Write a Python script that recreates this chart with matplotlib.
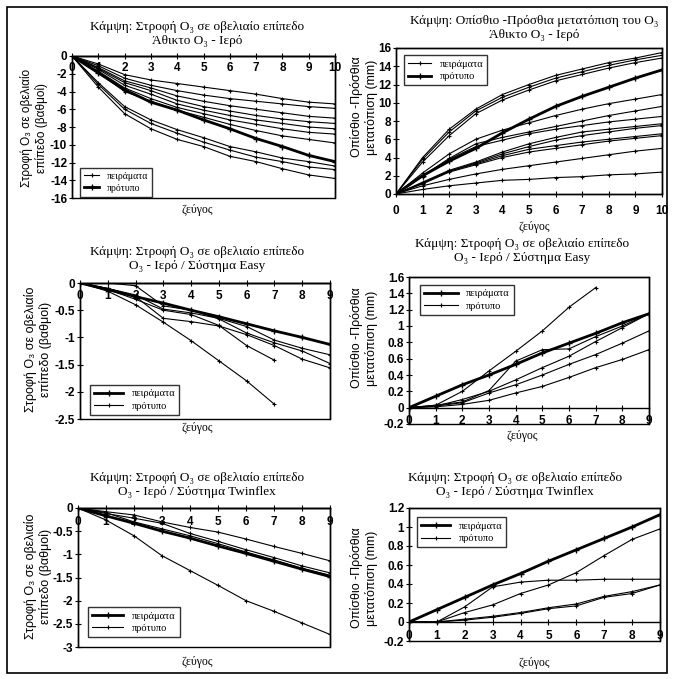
import matplotlib
matplotlib.use("Agg")
import matplotlib.pyplot as plt
from matplotlib.patches import Rectangle
from matplotlib.ticker import FuncFormatter

# ---- data ----
x10 = list(range(11))
x9 = list(range(10))

# 1. Άθικτο - στροφή (μοίρες)
strofi_athikto_peir = [
    [0, -0.9, -2.1, -2.7, -3.1, -3.5, -3.9, -4.3, -4.8, -5.2, -5.4],
    [0, -1.1, -2.5, -3.3, -3.9, -4.4, -4.8, -5.1, -5.4, -5.7, -5.9],
    [0, -1.3, -2.8, -3.6, -4.5, -5.1, -5.6, -6.0, -6.4, -6.8, -7.0],
    [0, -1.4, -3.0, -3.9, -5.0, -5.7, -6.2, -6.7, -7.1, -7.4, -7.6],
    [0, -1.5, -3.3, -4.3, -5.4, -6.1, -6.7, -7.2, -7.6, -8.0, -8.2],
    [0, -1.7, -3.6, -4.8, -5.8, -6.5, -7.2, -7.7, -8.2, -8.6, -8.8],
    [0, -1.9, -4.0, -5.1, -6.1, -6.9, -7.7, -8.4, -9.0, -9.4, -9.8],
    [0, -3.0, -5.7, -7.2, -8.3, -9.2, -10.2, -10.8, -11.5, -11.9, -12.4],
    [0, -3.2, -6.0, -7.6, -8.7, -9.7, -10.6, -11.4, -11.9, -12.5, -12.8],
    [0, -3.5, -6.5, -8.2, -9.4, -10.2, -11.3, -11.9, -12.7, -13.4, -13.8],
]
strofi_athikto_prot = [0, -1.9, -3.8, -5.2, -6.1, -7.2, -8.2, -9.3, -10.2, -11.2, -11.9]

# 2. Άθικτο - μετατόπιση (mm)
metat_athikto_peir = [
    [0, 3.5, 6.4, 8.8, 10.3, 11.4, 12.4, 13.1, 13.8, 14.4, 14.9],
    [0, 3.8, 6.8, 9.1, 10.6, 11.7, 12.7, 13.4, 14.1, 14.7, 15.2],
    [0, 4.0, 7.1, 9.3, 10.9, 12.0, 13.0, 13.7, 14.4, 14.9, 15.5],
    [0, 2.3, 4.4, 6.0, 7.0, 7.8, 8.6, 9.3, 9.9, 10.4, 10.9],
    [0, 2.0, 3.9, 5.5, 6.2, 6.8, 7.4, 8.0, 8.6, 9.1, 9.6],
    [0, 1.9, 3.8, 5.2, 5.9, 6.6, 7.1, 7.5, 7.9, 8.2, 8.5],
    [0, 1.3, 2.6, 3.5, 4.6, 5.5, 6.2, 6.8, 7.1, 7.4, 7.7],
    [0, 1.2, 2.5, 3.4, 4.4, 5.2, 5.9, 6.4, 6.8, 7.2, 7.5],
    [0, 1.2, 2.5, 3.3, 4.2, 4.9, 5.3, 5.7, 6.0, 6.3, 6.6],
    [0, 1.1, 2.4, 3.2, 4.0, 4.6, 5.0, 5.4, 5.8, 6.1, 6.4],
    [0, 0.9, 1.6, 2.2, 2.7, 3.1, 3.5, 3.9, 4.3, 4.7, 5.0],
    [0, 0.5, 0.9, 1.2, 1.5, 1.6, 1.8, 1.9, 2.1, 2.2, 2.4],
]
metat_athikto_prot = [0, 2.0, 3.6, 5.0, 6.7, 8.2, 9.6, 10.7, 11.7, 12.7, 13.6]

# 3. Easy - στροφή
strofi_easy_peir = [0, -0.12, -0.25, -0.37, -0.5, -0.62, -0.75, -0.88, -1.0, -1.13]
strofi_easy_prot = [
    [0, -0.15, -0.4, -0.72, -1.06, -1.43, -1.8, -2.23],
    [0, -0.12, -0.3, -0.5, -0.58, -0.78, -1.15, -1.42],
    [0, 0, -0.05, -0.42, -0.5, -0.66, -0.92, -1.1, -1.25, -1.48],
    [0, -0.1, -0.22, -0.48, -0.55, -0.65, -0.8, -1.05, -1.2, -1.32],
    [0, -0.1, -0.25, -0.65, -0.71, -0.79, -0.95, -1.15, -1.4, -1.56],
]

# 4. Easy - μετατόπιση
metat_easy_peir = [0, 0.14, 0.28, 0.4, 0.53, 0.67, 0.79, 0.91, 1.04, 1.15]
metat_easy_prot = [
    [0, 0.03, 0.2, 0.45, 0.69, 0.94, 1.23, 1.47],
    [0, 0.03, 0.07, 0.21, 0.57, 0.71, 0.72, 0.87, 1.0, 1.15],
    [0, 0.02, 0.1, 0.2, 0.34, 0.49, 0.63, 0.81, 0.98, 1.15],
    [0, 0.02, 0.06, 0.18, 0.28, 0.40, 0.53, 0.65, 0.79, 0.94],
    [0, 0.01, 0.04, 0.09, 0.18, 0.26, 0.37, 0.49, 0.59, 0.71],
]

# 5. Twinflex - στροφή
strofi_twin_peir = [0, -0.17, -0.33, -0.5, -0.65, -0.82, -0.98, -1.15, -1.32, -1.48]
strofi_twin_prot = [
    [0, -0.26, -0.6, -1.03, -1.35, -1.67, -2.0, -2.23, -2.48, -2.73],
    [0, -0.08, -0.15, -0.3, -0.42, -0.52, -0.67, -0.83, -0.98, -1.14],
    [0, -0.12, -0.22, -0.33, -0.55, -0.72, -0.9, -1.07, -1.25, -1.4],
    [0, -0.1, -0.3, -0.45, -0.6, -0.77, -0.95, -1.12, -1.3, -1.45],
]

# 6. Twinflex - μετατόπιση
metat_twin_peir = [0, 0.13, 0.26, 0.39, 0.51, 0.64, 0.76, 0.88, 1.0, 1.13]
metat_twin_prot = [
    [0, 0, 0.16, 0.37, 0.42, 0.44, 0.44, 0.45, 0.45, 0.45],
    [0, 0, 0.1, 0.18, 0.3, 0.39, 0.52, 0.7, 0.87, 0.98],
    [0, 0, 0.02, 0.05, 0.09, 0.14, 0.17, 0.26, 0.3, 0.39],
    [0, 0, 0.03, 0.06, 0.1, 0.15, 0.19, 0.27, 0.32, 0.39],
]

tit_strofi = "Κάμψη: Στροφή O₃ σε οβελιαίο επίπεδο"
tit_metat = "Κάμψη: Οπίσθιο -Πρόσθια μετατόπιση του O₃"
ylab_strofi = "Στροφή O₃ σε οβελιαίο\nεπίπεδο (βαθμοί)"
ylab_metat = "Οπίσθιο -Πρόσθια\nμετατόπιση (mm)"

SERIF = ["Liberation Serif", "DejaVu Serif"]
SANS = ["Liberation Sans", "DejaVu Sans"]

W, H = 674, 679
fig = plt.figure(figsize=(W / 100, H / 100), dpi=100)
fig.patch.set_facecolor("white")


def ax_px(l, t, r, b):
    return fig.add_axes([l / W, 1 - b / H, (r - l) / W, (b - t) / H])


def txt(x, y, s, fam, size, rot=0):
    fig.text(x / W, 1 - y / H, s, ha="center", va="center", family=fam,
             fontsize=size, rotation=rot, linespacing=1.2)


def setup(ax, xmax, ylim, yticks, xpad):
    ax.set_xlim(0, xmax)
    ax.set_ylim(*ylim)
    ax.set_xticks(range(xmax + 1))
    ax.set_yticks(yticks)
    ax.yaxis.set_major_formatter(FuncFormatter(lambda v, p: f"{v:g}"))
    ax.spines["bottom"].set_position(("data", 0))
    ax.patch.set_edgecolor("black")
    ax.patch.set_linewidth(1.0)
    for s in ax.spines.values():
        s.set_linewidth(1.0)
    ax.tick_params(axis="x", direction="inout", length=4, pad=xpad, labelsize=8.5)
    ax.tick_params(axis="y", direction="inout", length=4, pad=1.5, labelsize=8.5)
    for lab in ax.get_xticklabels() + ax.get_yticklabels():
        lab.set_family(SANS)
        lab.set_fontweight("bold")


thin = dict(color="black", lw=0.8, marker="+", ms=3.5, mew=0.8)
thick = dict(color="black", lw=2.0, marker="+", ms=4, mew=1.0)
leg_kw = dict(frameon=True, fancybox=False, edgecolor="black", borderaxespad=0,
              prop={"family": SERIF, "size": 7.5}, handlelength=2.2,
              borderpad=0.4, labelspacing=0.3)

# ---- 1: άθικτο, στροφή ----
ax1 = ax_px(72, 56, 335, 198)
for i, y in enumerate(strofi_athikto_peir):
    ax1.plot(x10, y, **thin, label="πειράματα" if i == 0 else None)
ax1.plot(x10, strofi_athikto_prot, **thick, label="πρότυπο")
setup(ax1, 10, (-16, 0), range(-16, 1, 2), 2)
leg = ax1.legend(loc="lower left", bbox_to_anchor=(0.03, 0.01),
                 **{**leg_kw, "handlelength": 1.6, "prop": {"family": SERIF, "size": 7}})
leg.get_frame().set_linewidth(1.0)

# ---- 2: άθικτο, μετατόπιση ----
ax2 = ax_px(396, 48, 662, 194)
for i, y in enumerate(metat_athikto_peir):
    ax2.plot(x10, y, **thin, label="πειράματα" if i == 0 else None)
ax2.plot(x10, metat_athikto_prot, **thick, label="πρότυπο")
setup(ax2, 10, (0, 16), range(0, 17, 2), 6)
ax2.legend(loc="upper left", bbox_to_anchor=(0.03, 0.95), **leg_kw).get_frame().set_linewidth(1.0)

# ---- 3: Easy, στροφή ----
ax3 = ax_px(80, 283, 330, 419)
ax3.plot(x9, strofi_easy_peir, **thick, label="πειράματα")
for i, y in enumerate(strofi_easy_prot):
    ax3.plot(range(len(y)), y, **thin, label="πρότυπο" if i == 0 else None)
setup(ax3, 9, (-2.5, 0), [-2.5, -2, -1.5, -1, -0.5, 0], 3)
ax3.legend(loc="lower left", bbox_to_anchor=(0.04, 0.03),
           **{**leg_kw, "handlelength": 2.8}).get_frame().set_linewidth(1.0)

# ---- 4: Easy, μετατόπιση ----
ax4 = ax_px(409, 277, 649, 424)
ax4.plot(x9, metat_easy_peir, **thick, label="πειράματα")
for i, y in enumerate(metat_easy_prot):
    ax4.plot(range(len(y)), y, **thin, label="πρότυπο" if i == 0 else None)
setup(ax4, 9, (-0.2, 1.6), [-0.2, 0, 0.2, 0.4, 0.6, 0.8, 1, 1.2, 1.4, 1.6], 3)
ax4.legend(loc="upper left", bbox_to_anchor=(0.046, 0.946),
           **{**leg_kw, "handlelength": 3.2}).get_frame().set_linewidth(1.0)

# ---- 5: Twinflex, στροφή ----
ax5 = ax_px(78, 508, 330, 647)
ax5.plot(x9, strofi_twin_peir, **thick, label="πειράματα")
for i, y in enumerate(strofi_twin_prot):
    ax5.plot(x9, y, **thin, label="πρότυπο" if i == 0 else None)
setup(ax5, 9, (-3, 0), [-3, -2.5, -2, -1.5, -1, -0.5, 0], 4)
ax5.legend(loc="lower left", bbox_to_anchor=(0.04, 0.07),
           **{**leg_kw, "handlelength": 3.0}).get_frame().set_linewidth(1.0)

# ---- 6: Twinflex, μετατόπιση ----
ax6 = ax_px(409, 508, 660, 641)
ax6.plot(x9, metat_twin_peir, **thick, label="πειράματα")
for i, y in enumerate(metat_twin_prot):
    ax6.plot(x9, y, **thin, label="πρότυπο" if i == 0 else None)
setup(ax6, 9, (-0.2, 1.2), [-0.2, 0, 0.2, 0.4, 0.6, 0.8, 1, 1.2], 4)
ax6.legend(loc="upper left", bbox_to_anchor=(0.032, 0.93),
           **{**leg_kw, "handlelength": 2.8}).get_frame().set_linewidth(1.0)

# ---- titles / axis labels ----
txt(197, 34, tit_strofi + "\nΆθικτο O₃ - Ιερό", SERIF, 9.5)
txt(534, 28, tit_metat + "\nΆθικτο O₃ - Ιερό", SERIF, 9.5)
txt(197, 259, tit_strofi + "\nO₃ - Ιερό / Σύστημα Easy", SERIF, 9.5)
txt(522, 251, tit_strofi + "\nO₃ - Ιερό / Σύστημα Easy", SERIF, 9.5)
txt(197, 485, tit_strofi + "\nO₃ - Ιερό / Σύστημα Twinflex", SERIF, 9.5)
txt(515, 485, tit_strofi + "\nO₃ - Ιερό / Σύστημα Twinflex", SERIF, 9.5)

txt(34, 128, ylab_strofi, SANS, 8.5, 90)
txt(364, 107, ylab_metat, SANS, 9, 90)
txt(38, 349, ylab_strofi, SANS, 9, 90)
txt(364, 338, ylab_metat, SANS, 9, 90)
txt(38, 576, ylab_strofi, SANS, 9, 90)
txt(364, 578, ylab_metat, SANS, 9, 90)

txt(197, 210, "ζεύγος", SERIF, 8.5)
txt(534, 227, "ζεύγος", SERIF, 8.5)
txt(197, 428, "ζεύγος", SERIF, 8.5)
txt(522, 436, "ζεύγος", SERIF, 8.5)
txt(197, 662, "ζεύγος", SERIF, 8.5)
txt(534, 663, "ζεύγος", SERIF, 8.5)

# outer frame of the figure
fig.add_artist(Rectangle((7 / W, 1 - 673 / H), 660 / W, 666 / H,
                         transform=fig.transFigure, fill=False, lw=1.2, ec="black"))

fig.savefig("out.png", dpi=100)
